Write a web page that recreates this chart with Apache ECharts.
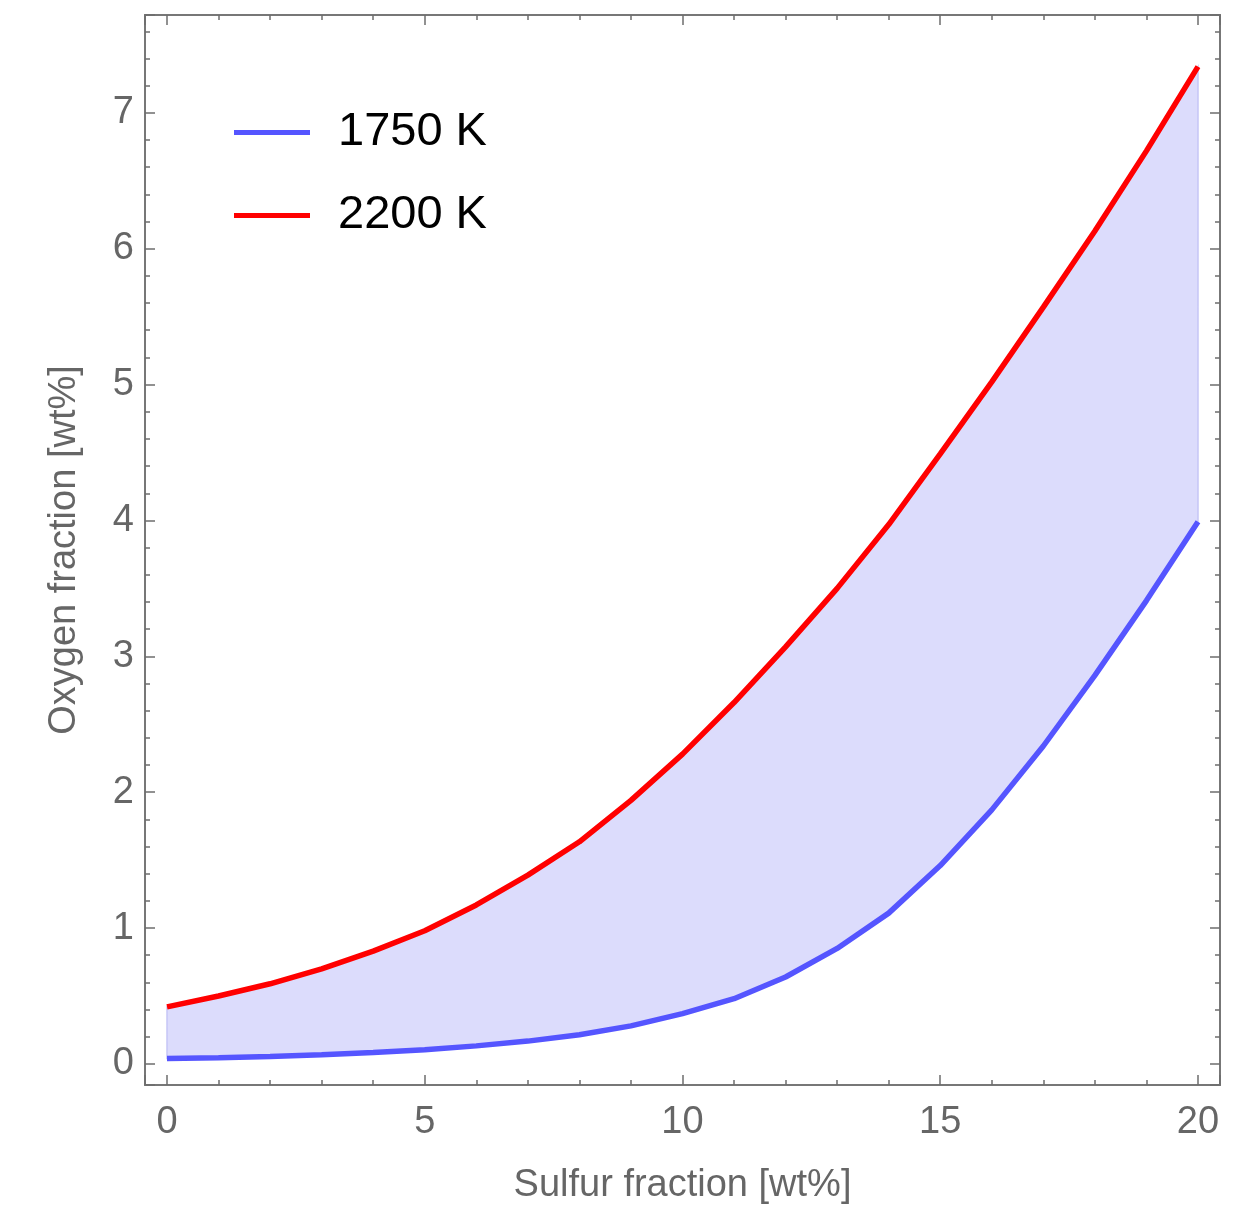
<!DOCTYPE html>
<html>
<head>
<meta charset="utf-8">
<script src="https://cdn.jsdelivr.net/npm/echarts@6/dist/echarts.min.js"></script>
<style>
html,body{margin:0;padding:0;background:#fff;}
#chart{width:1245px;height:1210px;}
</style>
</head>
<body>
<div id="chart"></div>
<script>
const sulfur = [0,1,2,3,4,5,6,7,8,9,10,11,12,13,14,15,16,17,18,19,20];
const o1750 = [0.04,0.045,0.055,0.068,0.084,0.105,0.133,0.168,0.215,0.28,0.37,0.48,0.64,0.85,1.11,1.46,1.87,2.34,2.86,3.41,3.99];
const o2200 = [0.42,0.50,0.59,0.70,0.83,0.98,1.17,1.39,1.635,1.94,2.28,2.66,3.07,3.50,3.97,4.49,5.02,5.57,6.13,6.72,7.34];
const seriesNames = ['1750 K','2200 K'];
const xTitle = 'Sulfur fraction [wt%]';
const yTitle = 'Oxygen fraction [wt%]';

const X_MIN = -0.427, X_MAX = 20.427, Y_MIN = -0.155, Y_MAX = 7.72;
const X_STEP = 5, Y_STEP = 1;
const FONT = '"Liberation Sans", Arial, sans-serif';
const AX = '#6e6e6e';

const lowPts = sulfur.map((x,i)=>[x,o1750[i]]);
const highPts = sulfur.map((x,i)=>[x,o2200[i]]);

function xAx(pos, labels){
  return {
    type:'value', position:pos, min:X_MIN, max:X_MAX, splitNumber:4, minInterval:X_STEP, maxInterval:X_STEP,
    axisLine:{show:false, onZero:false}, splitLine:{show:false},
    axisTick:{show:true, inside:true, length:10, lineStyle:{color:AX,width:1.5}},
    minorTick:{show:true, splitNumber:5, length:5, lineStyle:{color:AX,width:1.5}},
    axisLabel: labels ? {show:true, showMinLabel:false, showMaxLabel:false, color:'#666', fontSize:38, fontFamily:FONT, margin:19} : {show:false},
    name: labels ? xTitle : '', nameLocation:'middle', nameGap:82, nameMoveOverlap:false,
    nameTextStyle:{color:'#666', fontSize:38, fontFamily:FONT}
  };
}
function yAx(pos, labels){
  return {
    type:'value', position:pos, min:Y_MIN, max:Y_MAX, splitNumber:8, minInterval:Y_STEP, maxInterval:Y_STEP,
    axisLine:{show:false, onZero:false}, splitLine:{show:false},
    axisTick:{show:true, inside:true, length:10, lineStyle:{color:AX,width:1.5}},
    minorTick:{show:true, splitNumber:5, length:5, lineStyle:{color:AX,width:1.5}},
    axisLabel: labels ? {show:true, showMinLabel:false, showMaxLabel:false, color:'#666', fontSize:38, fontFamily:FONT, margin:11} : {show:false},
    name: labels ? yTitle : '', nameLocation:'middle', nameGap:61, nameMoveOverlap:false,
    nameTextStyle:{color:'#666', fontSize:38, fontFamily:FONT}
  };
}

const chart = echarts.init(document.getElementById('chart'), null, {renderer:'canvas'});
chart.setOption({
  backgroundColor:'#fff',
  animation:false,
  grid:{left:145, right:25, top:15, bottom:121, show:true, borderColor:'#777', borderWidth:2, backgroundColor:'transparent'},
  legend:{
    data:seriesNames, orient:'vertical', left:234, top:109, padding:0,
    icon:'rect', itemWidth:76, itemHeight:5, itemGap:36,
    textStyle:{color:'#000', fontSize:47, fontFamily:FONT, padding:[0,0,0,23]}
  },
  xAxis:[xAx('bottom',true), xAx('top',false)],
  yAxis:[yAx('left',true), yAx('right',false)],
  series:[
    {
      name:'band', type:'custom', silent:true, z:1,
      data: sulfur.map((x,i)=>[x,o1750[i],o2200[i]]),
      encode:{x:0, y:[1,2]},
      renderItem:function(params, api){
        if (params.dataIndex !== 0) return null;
        const pts = [];
        for (let i=0;i<lowPts.length;i++) pts.push(api.coord(lowPts[i]));
        for (let i=highPts.length-1;i>=0;i--) pts.push(api.coord(highPts[i]));
        return {type:'polygon', shape:{points:pts}, style:{fill:'#dcdcfc', stroke:'#c6c6f6', lineWidth:1.5}};
      }
    },
    {name:seriesNames[0], type:'line', data:lowPts, showSymbol:false, color:'#5555ff', lineStyle:{color:'#5555ff', width:5.5}, z:3},
    {name:seriesNames[1], type:'line', data:highPts, showSymbol:false, color:'#ff0000', lineStyle:{color:'#ff0000', width:5.5}, z:3}
  ]
});
</script>
</body>
</html>
